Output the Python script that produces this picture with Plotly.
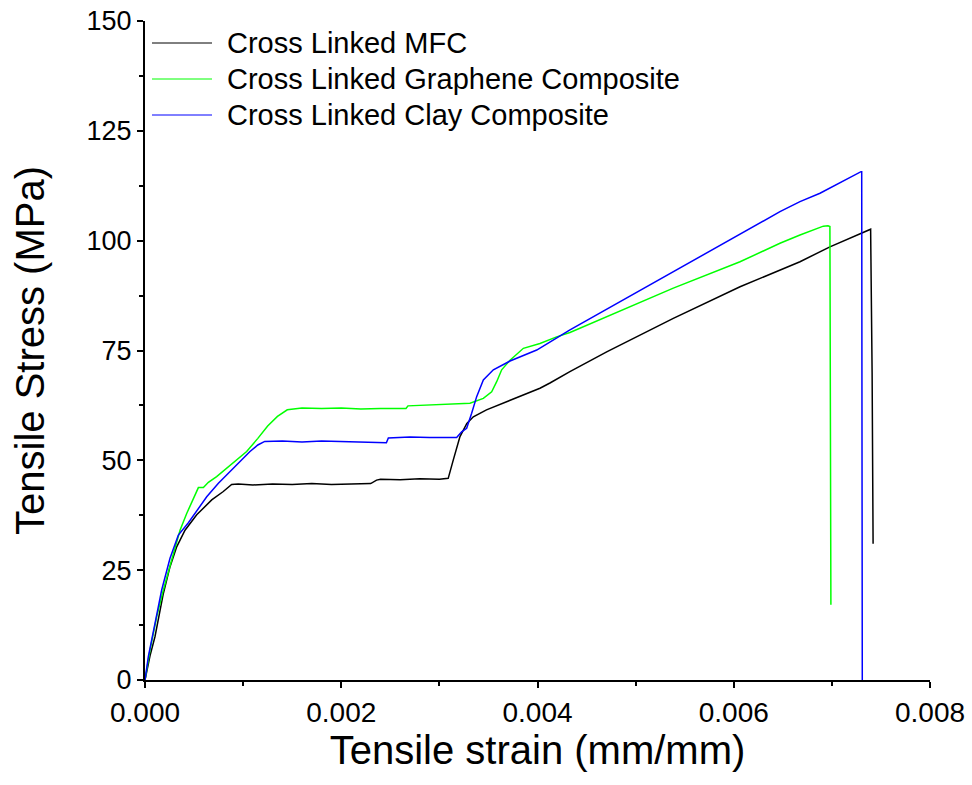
import plotly.graph_objects as go

# Tensile test curves: strain (mm/mm) vs stress (MPa)
strain_mfc = [0, 0.000051, 0.000102, 0.000150, 0.000187, 0.000255, 0.000323, 0.000408,
              0.000527, 0.000680, 0.000798, 0.000883, 0.00095, 0.0011, 0.0013, 0.0015,
              0.0017, 0.0019, 0.0021, 0.0023, 0.00236, 0.00240, 0.0026, 0.0028, 0.0030,
              0.00309, 0.003142, 0.00321, 0.00328, 0.003346, 0.00348, 0.003686, 0.00389,
              0.004025, 0.004127, 0.00433, 0.004705, 0.005384, 0.006064, 0.006675,
              0.00698, 0.007304, 0.007395, 0.00741, 0.00742]
stress_mfc = [0, 5.5, 9.9, 15.0, 19.7, 25.8, 30.3, 34.1,
              37.6, 41.0, 42.9, 44.5, 44.6, 44.4, 44.6, 44.5,
              44.7, 44.5, 44.6, 44.7, 45.5, 45.7, 45.6, 45.8, 45.7,
              45.9, 50.1, 55.4, 58.4, 59.9, 61.5, 63.4, 65.3,
              66.4, 67.6, 70.2, 74.7, 82.3, 89.5, 95.2,
              98.6, 101.7, 102.6, 70.0, 31.0]

strain_graphene = [0, 0.000051, 0.000119, 0.000187, 0.000272, 0.000357, 0.000425, 0.000493,
                   0.000544, 0.000595, 0.000646, 0.00073, 0.000866, 0.001036, 0.00115, 0.00125,
                   0.00135, 0.00145, 0.0016, 0.0018, 0.0020, 0.0022, 0.0024, 0.00266, 0.00268,
                   0.0029, 0.0031, 0.003312, 0.003448, 0.003533, 0.003584, 0.003635, 0.00372,
                   0.003856, 0.004025, 0.004195, 0.004331, 0.004705, 0.005384, 0.006064,
                   0.006471, 0.006675, 0.006913, 0.00696, 0.00698, 0.00699]
stress_graphene = [0, 6.8, 14.4, 20.5, 27.3, 34.1, 37.9, 41.4,
                   43.8, 43.8, 45.0, 46.3, 48.9, 52.0, 55.0, 57.8,
                   60.0, 61.5, 61.9, 61.8, 61.9, 61.7, 61.8, 61.8, 62.4,
                   62.6, 62.8, 63.0, 64.1, 65.6, 67.9, 70.6, 72.8,
                   75.5, 76.6, 78.1, 79.1, 82.7, 89.2, 95.2,
                   99.4, 101.3, 103.3, 103.4, 103.2, 17.1]

strain_clay = [0, 0.000034, 0.000102, 0.00017, 0.000255, 0.00034, 0.000442, 0.000544,
               0.000629, 0.000748, 0.000866, 0.000968, 0.00107, 0.00115, 0.00122, 0.0014,
               0.0016, 0.0018, 0.0020, 0.0022, 0.0024, 0.00246, 0.00248, 0.0027, 0.0029,
               0.0031, 0.003176, 0.003227, 0.003278, 0.003329, 0.00338, 0.003448, 0.00355,
               0.00372, 0.003992, 0.004331, 0.004705, 0.005384, 0.006064, 0.006471,
               0.006675, 0.006879, 0.007297, 0.007304, 0.00731]
stress_clay = [0, 5.3, 12.9, 20.5, 27.7, 33.0, 35.8, 39.1,
               41.7, 44.8, 47.4, 49.7, 52.0, 53.5, 54.3, 54.4,
               54.2, 54.4, 54.3, 54.2, 54.1, 54.0, 55.1, 55.3, 55.2,
               55.3, 55.2, 56.5, 57.3, 60.7, 64.5, 68.3, 70.6,
               72.6, 75.1, 79.7, 84.4, 92.8, 101.3, 106.6,
               108.9, 110.8, 115.7, 115.7, 0]

series_names = ["Cross Linked MFC", "Cross Linked Graphene Composite", "Cross Linked Clay Composite"]
series_colors = ["#000000", "#00ff00", "#0000ff"]
series_x = [strain_mfc, strain_graphene, strain_clay]
series_y = [stress_mfc, stress_graphene, stress_clay]

x_ticks = [0, 0.002, 0.004, 0.006, 0.008]
y_ticks = [0, 25, 50, 75, 100, 125, 150]

fig = go.Figure()
for name, color, xs, ys in zip(series_names, series_colors, series_x, series_y):
    fig.add_trace(go.Scatter(x=xs, y=ys, mode="lines", name=name,
                             line=dict(color=color, width=1.5), showlegend=False))

# Legend drawn as short line samples with labels in the upper-left corner
W, H = 972, 785
ml, mr, mt, mb = 145, 42, 21, 105
pw, ph = W - ml - mr, H - mt - mb
shapes, annotations = [], []
for i, (name, color) in enumerate(zip(series_names, series_colors)):
    row_px = 43 + 36 * i
    yp = (H - mb - row_px) / ph
    shapes.append(dict(type="line", xref="paper", yref="paper",
                       x0=(152 - ml) / pw, x1=(212 - ml) / pw, y0=yp, y1=yp,
                       line=dict(color=color, width=1)))
    annotations.append(dict(xref="paper", yref="paper", x=(225 - ml) / pw, y=yp,
                            xanchor="left", yanchor="middle", showarrow=False, text=name,
                            font=dict(family="Liberation Sans, Arial", size=29, color="black")))

axis_common = dict(showline=True, linecolor="black", linewidth=2, ticks="outside",
                   tickcolor="black", tickwidth=2, ticklen=6, showgrid=False, zeroline=False,
                   mirror=False, automargin=False)

fig.update_layout(
    template="none",
    width=W, height=H,
    margin=dict(l=ml, r=mr, t=mt, b=mb),
    paper_bgcolor="white", plot_bgcolor="white",
    showlegend=False,
    shapes=shapes, annotations=annotations,
    xaxis=dict(range=[0, 0.008], tickvals=x_ticks, ticktext=[f"{v:.3f}" for v in x_ticks],
               tickfont=dict(family="Liberation Sans, Arial", size=28, color="black"),
               minor=dict(dtick=0.001, tick0=0, ticks="outside", ticklen=4, tickwidth=2, tickcolor="black"),
               title=dict(text="Tensile strain (mm/mm)", standoff=0,
                          font=dict(family="Liberation Sans, Arial", size=40, color="black")),
               **axis_common),
    yaxis=dict(range=[0, 150], tickvals=y_ticks,
               tickfont=dict(family="Liberation Sans, Arial", size=27, color="black"),
               minor=dict(dtick=12.5, tick0=0, ticks="outside", ticklen=4, tickwidth=2, tickcolor="black"),
               title=dict(text="Tensile Stress (MPa)", standoff=30,
                          font=dict(family="Liberation Sans, Arial", size=40, color="black")),
               **axis_common),
)

fig.write_html("out.html")
